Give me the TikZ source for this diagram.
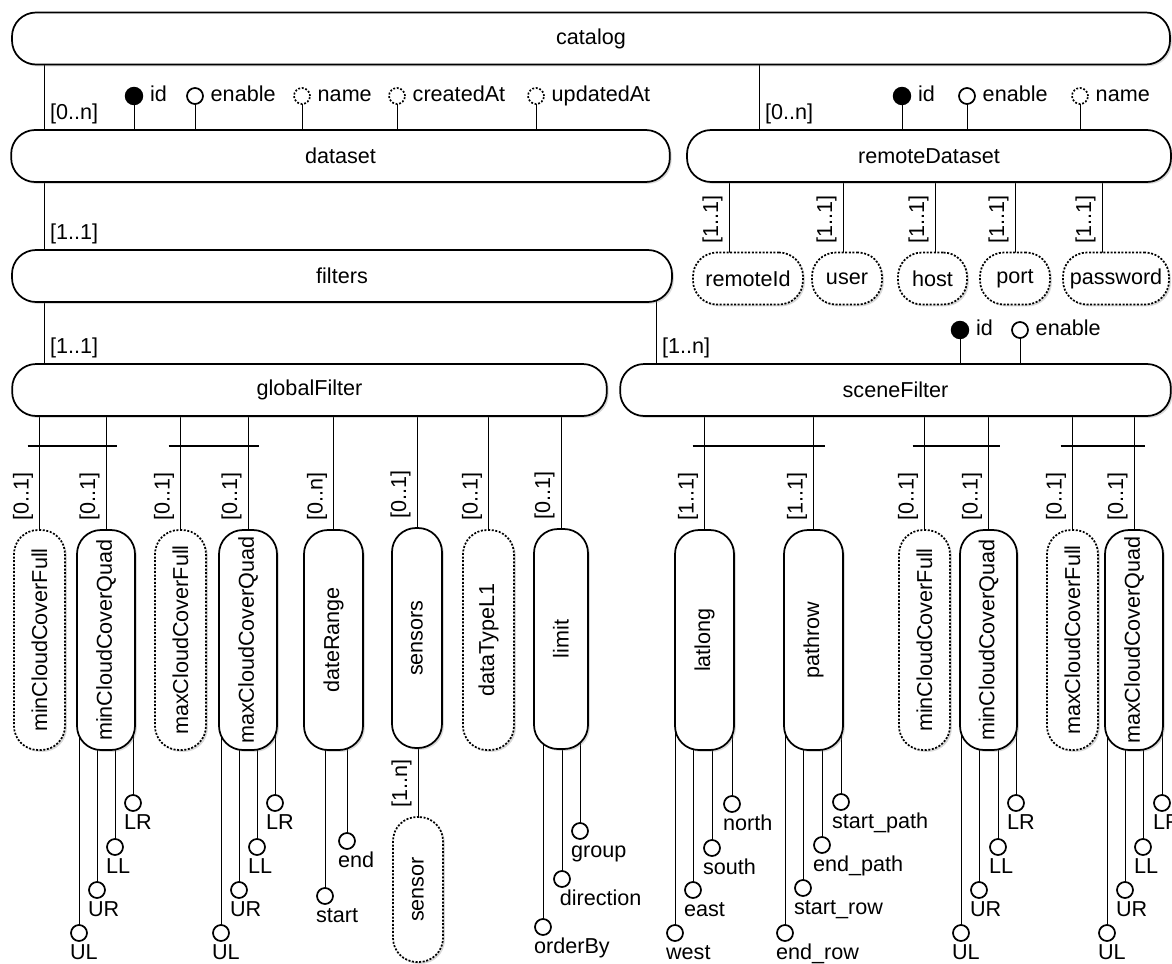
\documentclass[tikz,border=0pt]{standalone}
\usepackage{fontspec}
\setmainfont{Liberation Sans}
\usepackage{graphicx}
\usetikzlibrary{calc,shadows,backgrounds}

\begin{document}
\begin{tikzpicture}[
    x=0.75pt, y=-0.75pt,
    font=\fontsize{16.2}{18}\selectfont,
    line width=1.3pt,
    ent/.style={
        draw, fill=white, rounded corners=18pt, inner sep=0pt,
        drop shadow={shadow xshift=1.4pt, shadow yshift=-1.4pt, opacity=.3}
    },
    hent/.style={ent, minimum height=39pt, minimum width=#1},
    vent/.style={ent, minimum height=165pt, minimum width=#1},
    optional/.style={dash pattern=on 1.5pt off 1.2pt},
    pkattr/.style={circle, draw, fill=black, inner sep=0pt, minimum size=12.5pt},
    attr/.style={circle, draw, fill=white, inner sep=0pt, minimum size=12pt},
    optattr/.style={attr, dash pattern=on 1.4pt off 1.3pt},
    attrlbl/.style={anchor=west, inner sep=0pt, xshift=4.5pt,
        text height=11.5pt, text depth=3pt},
    sublbl/.style={anchor=north west, inner sep=0pt, xshift=-2.6pt, yshift=-3.2pt,
        text height=11.2pt, text depth=3pt},
    mult/.style={anchor=south west, inner sep=1pt, text height=11.5pt, text depth=3.5pt},
    vmult/.style={mult, rotate=90}
]
\useasboundingbox (0,0) rectangle (1172,964);

%% ── Hlavné entity ────────────────────────────────────────────────
\node[hent=868.5pt] (catalog) at (591,38.5) {catalog};
\node[hent=494pt] (dataset) at (340.5,156) {dataset};
\node[hent=363pt] (remoteDataset) at (929,156) {remoteDataset};
\node[hent=495pt] (filters) at (342,276) {filters};
\node[hent=446pt] (globalFilter) at (309.5,390) {globalFilter};
\node[hent=413pt] (sceneFilter) at (895.5,390) {sceneFilter};

%% ── Polia remoteDataset ──────────────────────────────────────────
\node[hent=82.5pt, optional] (remoteId) at (748,278.5) {remoteId};
\node[hent=52.5pt, optional] (user) at (847,278.5) {user};
\node[hent=51.75pt, optional] (host) at (932.5,278.5) {host};
\node[hent=52.5pt, optional] (port) at (1015,278.5) {port};
\node[hent=79.5pt, optional] (password) at (1116,278.5) {password};

%% ── Potomkovia globalFilter ──────────────────────────────────────
\node[vent=38.25pt, optional] (gMinFull) at (39.5,640) {\rotatebox{90}{minCloudCoverFull}};
\node[vent=43.5pt] (gMinQuad) at (106,640) {\rotatebox{90}{minCloudCoverQuad}};
\node[vent=38.25pt, optional] (gMaxFull) at (180.5,640) {\rotatebox{90}{maxCloudCoverFull}};
\node[vent=43.5pt] (gMaxQuad) at (248,640) {\rotatebox{90}{maxCloudCoverQuad}};
\node[vent=44.25pt] (dateRange) at (333.5,640) {\rotatebox{90}{dateRange}};
\node[vent=37.5pt] (sensors) at (417,638) {\rotatebox{90}{sensors}};
\node[vent=38.25pt, optional] (dataType) at (488.5,640) {\rotatebox{90}{dataTypeL1}};
\node[vent=40.5pt] (limit) at (561,639) {\rotatebox{90}{limit}};
\node[ent, optional, minimum width=37.5pt, minimum height=108.75pt] (sensor)
    at (418,889.5) {\rotatebox{90}{sensor}};

%% ── Potomkovia sceneFilter ───────────────────────────────────────
\node[vent=44.25pt] (sLatlong) at (704.5,640) {\rotatebox{90}{latlong}};
\node[vent=44.25pt] (sPathrow) at (813.5,640) {\rotatebox{90}{pathrow}};
\node[vent=38.25pt, optional] (sMinFull) at (924.5,640) {\rotatebox{90}{minCloudCoverFull}};
\node[vent=42.75pt] (sMinQuad) at (988.5,640) {\rotatebox{90}{minCloudCoverQuad}};
\node[vent=38.25pt, optional] (sMaxFull) at (1072.5,640) {\rotatebox{90}{maxCloudCoverFull}};
\node[vent=43.5pt] (sMaxQuad) at (1134,640) {\rotatebox{90}{maxCloudCoverQuad}};

%% ── Atribúty ─────────────────────────────────────────────────────
\node[pkattr, label={[attrlbl]right:id}] (dsId) at (134,96) {};
\node[attr, label={[attrlbl]right:enable}] (dsEnable) at (195,96) {};
\node[optattr, label={[attrlbl]right:name}] (dsName) at (302,96) {};
\node[optattr, label={[attrlbl]right:createdAt}] (dsCreated) at (397,96) {};
\node[optattr, label={[attrlbl]right:updatedAt}] (dsUpdated) at (536,96) {};

\node[pkattr, label={[attrlbl]right:id}] (rdId) at (902,96) {};
\node[attr, label={[attrlbl]right:enable}] (rdEnable) at (967,96) {};
\node[optattr, label={[attrlbl]right:name}] (rdName) at (1080,96) {};

\node[pkattr, label={[attrlbl]right:id}] (sfId) at (960,330) {};
\node[attr, label={[attrlbl]right:enable}] (sfEnable) at (1020,330) {};

\node[attr, label={[sublbl]-135:UL}] (gMinUL) at (79,933) {};
\node[attr, label={[sublbl]-135:UR}] (gMinUR) at (97,890) {};
\node[attr, label={[sublbl]-135:LL}] (gMinLL) at (115,847) {};
\node[attr, label={[sublbl]-135:LR}] (gMinLR) at (133,803) {};

\node[attr, label={[sublbl]-135:UL}] (gMaxUL) at (221,933) {};
\node[attr, label={[sublbl]-135:UR}] (gMaxUR) at (239,890) {};
\node[attr, label={[sublbl]-135:LL}] (gMaxLL) at (257,847) {};
\node[attr, label={[sublbl]-135:LR}] (gMaxLR) at (275,803) {};

\node[attr, label={[sublbl]-135:start}] (drStart) at (325,896) {};
\node[attr, label={[sublbl]-135:end}] (drEnd) at (347,841) {};

\node[attr, label={[sublbl]-135:orderBy}] (lmOrder) at (543,927) {};
\node[attr, label={[sublbl, xshift=5pt]-135:direction}] (lmDir) at (562,879) {};
\node[attr, label={[sublbl]-135:group}] (lmGroup) at (580,831) {};

\node[attr, label={[sublbl]-135:west}] (llWest) at (675,933) {};
\node[attr, label={[sublbl]-135:east}] (llEast) at (693,890) {};
\node[attr, label={[sublbl]-135:south}] (llSouth) at (712,848) {};
\node[attr, label={[sublbl]-135:north}] (llNorth) at (732,804) {};

\node[attr, label={[sublbl]-135:end\_row}] (prEndRow) at (785,933) {};
\node[attr, label={[sublbl]-135:start\_row}] (prStartRow) at (803,888) {};
\node[attr, label={[sublbl]-135:end\_path}] (prEndPath) at (822,845) {};
\node[attr, label={[sublbl]-135:start\_path}] (prStartPath) at (841,802) {};

\node[attr, label={[sublbl]-135:UL}] (sMinUL) at (961,933) {};
\node[attr, label={[sublbl]-135:UR}] (sMinUR) at (979,890) {};
\node[attr, label={[sublbl]-135:LL}] (sMinLL) at (998,847) {};
\node[attr, label={[sublbl]-135:LR}] (sMinLR) at (1016,803) {};

\node[attr, label={[sublbl]-135:UL}] (sMaxUL) at (1107,933) {};
\node[attr, label={[sublbl]-135:UR}] (sMaxUR) at (1125,890) {};
\node[attr, label={[sublbl]-135:LL}] (sMaxLL) at (1143,847) {};
\node[attr, label={[sublbl]-135:LR}] (sMaxLR) at (1162,803) {};

%% ── Prepojenia ───────────────────────────────────────────────────
\coordinate (toDataset) at (44,130);
\coordinate (toRemote) at (759,130);
\coordinate (toFilters) at (44,250);
\coordinate (toGlobal) at (44,364);
\coordinate (toScene) at (656,364);
\coordinate (barY) at (0,446);

\begin{scope}[on background layer]
\draw (toDataset |- catalog.center) -- (toDataset |- dataset.center);
\draw (toRemote |- catalog.center) -- (toRemote |- remoteDataset.center);
\draw (toFilters |- dataset.center) -- (toFilters |- filters.center);
\draw (toGlobal |- filters.center) -- (toGlobal |- globalFilter.center);
\draw (toScene |- filters.center) -- (toScene |- sceneFilter.center);

\draw ([xshift=-14.25pt]remoteId.center) -- ([xshift=-14.25pt]remoteId.center |- remoteDataset.center);
\draw ([xshift=-3pt]user.center) -- ([xshift=-3pt]user.center |- remoteDataset.center);
\draw ([xshift=1.9pt]host.center) -- ([xshift=1.9pt]host.center |- remoteDataset.center);
\draw (port.center) -- (port.center |- remoteDataset.center);
\draw ([xshift=-10.5pt]password.center) -- ([xshift=-10.5pt]password.center |- remoteDataset.center);

\foreach \a/\b in {dsId/dataset, dsEnable/dataset, dsName/dataset, dsCreated/dataset,
    dsUpdated/dataset, rdId/remoteDataset, rdEnable/remoteDataset, rdName/remoteDataset,
    sfId/sceneFilter, sfEnable/sceneFilter}
    \draw (\a.center) -- (\a.center |- \b.center);

\foreach \c in {gMinFull, gMinQuad, gMaxFull, gMaxQuad, dateRange, sensors, dataType, limit}
    \draw (\c.center |- globalFilter.center) -- (\c.center);
\foreach \c in {sLatlong, sPathrow, sMinFull, sMinQuad, sMaxFull, sMaxQuad}
    \draw (\c.center |- sceneFilter.center) -- (\c.center);
\draw (sensor.center) -- (sensor.center |- sensors.center);

\foreach \a/\b in {gMinUL/gMinQuad, gMinUR/gMinQuad, gMinLL/gMinQuad, gMinLR/gMinQuad,
    gMaxUL/gMaxQuad, gMaxUR/gMaxQuad, gMaxLL/gMaxQuad, gMaxLR/gMaxQuad,
    drStart/dateRange, drEnd/dateRange, lmOrder/limit, lmDir/limit, lmGroup/limit,
    llWest/sLatlong, llEast/sLatlong, llSouth/sLatlong, llNorth/sLatlong,
    prEndRow/sPathrow, prStartRow/sPathrow, prEndPath/sPathrow, prStartPath/sPathrow,
    sMinUL/sMinQuad, sMinUR/sMinQuad, sMinLL/sMinQuad, sMinLR/sMinQuad,
    sMaxUL/sMaxQuad, sMaxUR/sMaxQuad, sMaxLL/sMaxQuad, sMaxLR/sMaxQuad}
    \draw (\a.center) -- (\a.center |- \b.center);
\end{scope}

%% ── Priečky (výber jedného z dvojice) ────────────────────────────
\draw ($(gMinFull.center |- barY)+(-12,0)$) -- ($(gMinQuad.center |- barY)+(11,0)$);
\draw ($(gMaxFull.center |- barY)+(-12,0)$) -- ($(gMaxQuad.center |- barY)+(11,0)$);
\draw ($(sLatlong.center |- barY)+(-12,0)$) -- ($(sPathrow.center |- barY)+(11,0)$);
\draw ($(sMinFull.center |- barY)+(-12,0)$) -- ($(sMinQuad.center |- barY)+(11,0)$);
\draw ($(sMaxFull.center |- barY)+(-12,0)$) -- ($(sMaxQuad.center |- barY)+(11,0)$);

%% ── Kardinality ──────────────────────────────────────────────────
\node[mult] at ($(toDataset)+(4,-4)$) {[0..n]};
\node[mult] at ($(toRemote)+(4,-4)$) {[0..n]};
\node[mult] at ($(toFilters)+(4,-4)$) {[1..1]};
\node[mult] at ($(toGlobal)+(4,-4)$) {[1..1]};
\node[mult] at ($(toScene)+(4,-4)$) {[1..n]};

\node[vmult] at ([xshift=-17.25pt, yshift=4.5pt]remoteId.north) {[1..1]};
\node[vmult] at ([xshift=-6pt, yshift=4.5pt]user.north) {[1..1]};
\node[vmult] at ([xshift=-1.1pt, yshift=4.5pt]host.north) {[1..1]};
\node[vmult] at ([xshift=-3pt, yshift=4.5pt]port.north) {[1..1]};
\node[vmult] at ([xshift=-13.5pt, yshift=4.5pt]password.north) {[1..1]};

\node[vmult] at ([xshift=-3pt, yshift=4.5pt]gMinFull.north) {[0..1]};
\node[vmult] at ([xshift=-3pt, yshift=4.5pt]gMinQuad.north) {[0..1]};
\node[vmult] at ([xshift=-3pt, yshift=4.5pt]gMaxFull.north) {[0..1]};
\node[vmult] at ([xshift=-3pt, yshift=4.5pt]gMaxQuad.north) {[0..1]};
\node[vmult] at ([xshift=-3pt, yshift=4.5pt]dateRange.north) {[0..n]};
\node[vmult] at ([xshift=-3pt, yshift=4.5pt]sensors.north) {[0..1]};
\node[vmult] at ([xshift=-3pt, yshift=4.5pt]dataType.north) {[0..1]};
\node[vmult] at ([xshift=-3pt, yshift=4.5pt]limit.north) {[0..1]};
\node[vmult] at ([xshift=-3pt, yshift=4.5pt]sensor.north) {[1..n]};

\node[vmult] at ([xshift=-3pt, yshift=4.5pt]sLatlong.north) {[1..1]};
\node[vmult] at ([xshift=-3pt, yshift=4.5pt]sPathrow.north) {[1..1]};
\node[vmult] at ([xshift=-3pt, yshift=4.5pt]sMinFull.north) {[0..1]};
\node[vmult] at ([xshift=-3pt, yshift=4.5pt]sMinQuad.north) {[0..1]};
\node[vmult] at ([xshift=-3pt, yshift=4.5pt]sMaxFull.north) {[0..1]};
\node[vmult] at ([xshift=-3pt, yshift=4.5pt]sMaxQuad.north) {[0..1]};

\end{tikzpicture}
\end{document}
